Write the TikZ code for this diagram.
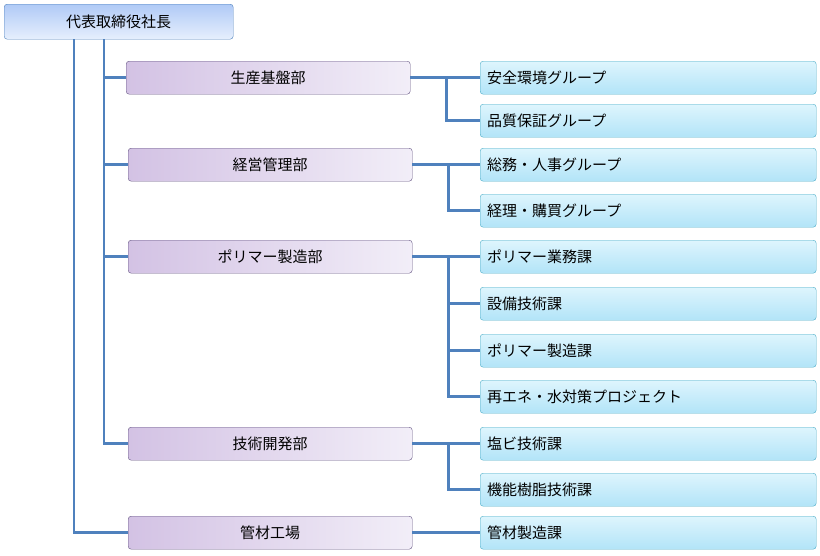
\documentclass[tikz,border=0pt]{standalone}
\usepackage{fontspec}
\setmainfont{Noto Sans CJK JP}
\begin{document}
\begin{tikzpicture}[x=1pt,y=-1pt,
 ln/.style={draw={rgb,255:red,79;green,129;blue,189},line width=2.8pt},
 box/.style={rounded corners=3pt,anchor=north west,inner sep=0pt,font=\fontsize{15}{15}\selectfont},
 ceo/.style={box,draw={rgb,255:red,79;green,129;blue,189},top color={rgb,255:red,176;green,202;blue,246},bottom color={rgb,255:red,230;green,239;blue,253}},
 dept/.style={box,draw={rgb,255:red,100;green,85;blue,130},left color={rgb,255:red,211;green,194;blue,228},right color={rgb,255:red,242;green,238;blue,248},minimum width=284pt,minimum height=33pt},
 sub/.style={box,draw={rgb,255:red,75;green,172;blue,198},top color={rgb,255:red,222;green,245;blue,253},bottom color={rgb,255:red,178;green,228;blue,248},minimum width=336pt,minimum height=33pt,text width=322pt,align=left}]
\useasboundingbox (0,0) rectangle (820,555);
\node[ceo,minimum width=229pt,minimum height=35pt] (ceo) at (4,4) {代表取締役社長};
\coordinate (a) at (74,39); \coordinate (b) at (104,39);
\node[dept] (d1) at (126,61) {生産基盤部};
\node[dept] (d2) at (128,148) {経営管理部};
\node[dept] (d3) at (128,240) {ポリマー製造部};
\node[dept] (d4) at (128,427) {技術開発部};
\node[dept] (d5) at (128,516) {管材工場};
\node[sub] (s1) at (480,61) {安全環境グループ};
\node[sub] (s2) at (480,104) {品質保証グループ};
\node[sub] (s3) at (480,148) {総務・人事グループ};
\node[sub] (s4) at (480,194) {経理・購買グループ};
\node[sub] (s5) at (480,240) {ポリマー業務課};
\node[sub] (s6) at (480,287) {設備技術課};
\node[sub] (s7) at (480,334) {ポリマー製造課};
\node[sub] (s8) at (480,380) {再エネ・水対策プロジェクト};
\node[sub] (s9) at (480,427) {塩ビ技術課};
\node[sub] (s10) at (480,473) {機能樹脂技術課};
\node[sub] (s11) at (480,516) {管材製造課};
\draw[ln] (a) |- (d5.west);
\draw[ln] (b) |- (d4.west);
\foreach \d in {d1,d2,d3} \draw[ln] (b) |- (\d.west);
\foreach \d/\s in {d1/s1,d1/s2,d2/s3,d2/s4,d3/s5,d3/s6,d3/s7,d3/s8,d4/s9,d4/s10,d5/s11}
 \draw[ln] (\d.east) -- ([xshift=36pt]\d.east) |- (\s.west);
\end{tikzpicture}
\end{document}
